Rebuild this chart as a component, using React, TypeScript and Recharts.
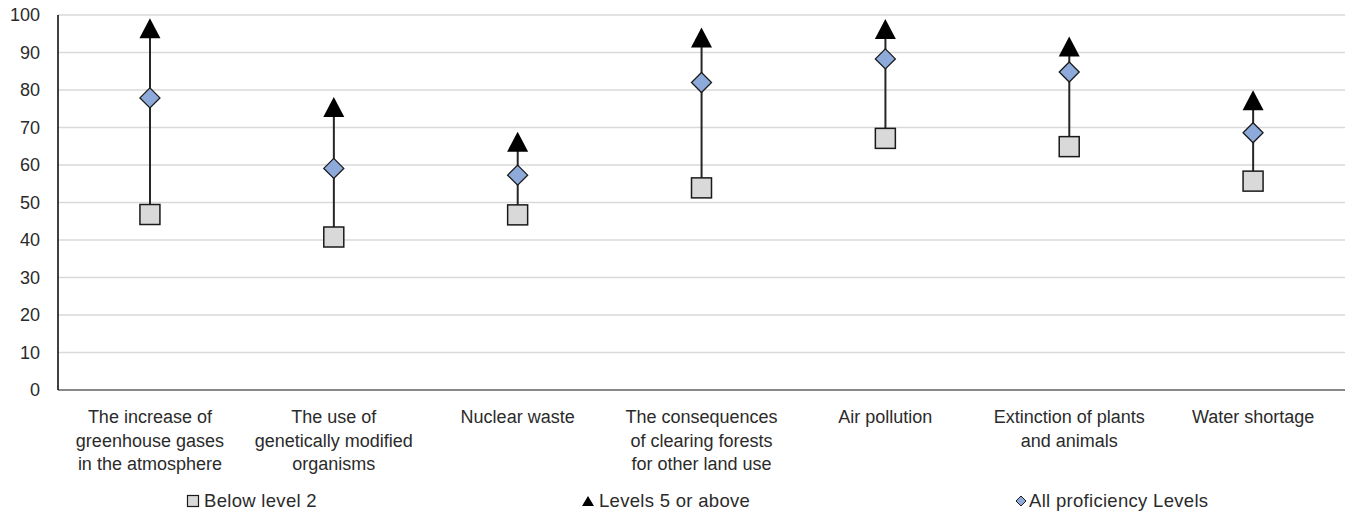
import React from "react";
import {
  ComposedChart,
  Bar,
  Scatter,
  XAxis,
  YAxis,
  CartesianGrid,
  Legend,
} from "recharts";

const categories = [
  "The increase of\ngreenhouse gases\nin the atmosphere",
  "The use of\ngenetically modified\norganisms",
  "Nuclear waste",
  "The consequences\nof clearing forests\nfor other land use",
  "Air pollution",
  "Extinction of plants\nand animals",
  "Water shortage",
];
const belowLevel2 = [46.8, 40.8, 46.7, 53.9, 67.1, 64.9, 55.7];
const levels5Above = [96.5, 75.5, 66.2, 94.0, 96.3, 91.6, 77.3];
const allLevels = [77.9, 59.1, 57.3, 82.0, 88.3, 84.8, 68.6];
const yTicks = [0, 10, 20, 30, 40, 50, 60, 70, 80, 90, 100];

const seriesNames = ["Below level 2", "Levels 5 or above", "All proficiency Levels"];

const data = categories.map((c, i) => ({
  cat: c,
  below: belowLevel2[i],
  top: levels5Above[i],
  all: allLevels[i],
  range: [belowLevel2[i], levels5Above[i]],
}));

const FONT = "'Liberation Sans', Arial, sans-serif";
const TEXT = "#2b2b2b";

const SquareShape = (p: any) => {
  const { cx, cy } = p;
  if (cx == null || cy == null) return null;
  return <rect x={cx - 10} y={cy - 10} width={20} height={20} fill="#d9d9d9" stroke="#1a1a1a" strokeWidth={1.5} />;
};
const TriangleShape = (p: any) => {
  const { cx, cy } = p;
  if (cx == null || cy == null) return null;
  return <path d={`M${cx},${cy - 10} L${cx + 10.5},${cy + 10} L${cx - 10.5},${cy + 10} Z`} fill="#000" />;
};
const DiamondShape = (p: any) => {
  const { cx, cy } = p;
  if (cx == null || cy == null) return null;
  return (
    <path
      d={`M${cx},${cy - 10} L${cx + 10},${cy} L${cx},${cy + 10} L${cx - 10},${cy} Z`}
      fill="#8eaadb"
      stroke="#1a1a1a"
      strokeWidth={1.3}
    />
  );
};

const XTick = (p: any) => {
  const { x, payload } = p;
  const lines = String(payload.value).split("\n");
  return (
    <text x={x} y={423} textAnchor="middle" fill={TEXT} fontSize={18} fontFamily={FONT}>
      {lines.map((l, i) => (
        <tspan key={i} x={x} dy={i === 0 ? 0 : 23.5}>
          {l}
        </tspan>
      ))}
    </text>
  );
};

const LegendContent = () => (
  <div style={{ position: "relative", width: 1346, height: 30, fontFamily: FONT, fontSize: 18.5, color: TEXT, letterSpacing: 0.3 }}>
    <svg style={{ position: "absolute", left: 0, top: 0 }} width={1346} height={30}>
      <rect x={187.5} y={13.5} width={11} height={11} fill="#d9d9d9" stroke="#1a1a1a" strokeWidth={1.2} />
      <path d="M588,14 L594,24 L582,24 Z" fill="#000" />
      <path d="M1021,14 L1026,19 L1021,24 L1016,19 Z" fill="#8eaadb" stroke="#1a1a1a" strokeWidth={1} />
    </svg>
    <span style={{ position: "absolute", left: 204, top: 7, lineHeight: "24px" }}>{seriesNames[0]}</span>
    <span style={{ position: "absolute", left: 599, top: 7, lineHeight: "24px" }}>{seriesNames[1]}</span>
    <span style={{ position: "absolute", left: 1029, top: 7, lineHeight: "24px" }}>{seriesNames[2]}</span>
  </div>
);

export default function App() {
  return (
    <div style={{ position: "absolute", left: 0, top: 0, width: 1346, height: 512, background: "#fff" }}>
      <ComposedChart
        width={1346}
        height={512}
        data={data}
        margin={{ top: 15, right: 1, bottom: 0, left: 0 }}
        barCategoryGap={0}
      >
        <CartesianGrid vertical={false} stroke="#d9d9d9" strokeWidth={1.3} />
        <XAxis
          dataKey="cat"
          interval={0}
          tickLine={false}
          axisLine={{ stroke: "#6b6b6b", strokeWidth: 1.5 }}
          height={92}
          tick={<XTick />}
        />
        <XAxis
          xAxisId="top"
          dataKey="cat"
          orientation="top"
          tick={false}
          tickLine={false}
          height={0}
          axisLine={{ stroke: "#1a1a1a", strokeWidth: 1.5 }}
        />
        <YAxis
          domain={[0, 100]}
          ticks={yTicks}
          interval={0}
          width={58}
          tickLine={false}
          tickMargin={12}
          axisLine={{ stroke: "#000", strokeWidth: 1.5 }}
          tick={{ fill: TEXT, fontSize: 18, fontFamily: FONT }}
        />
        <YAxis
          yAxisId="right"
          orientation="right"
          width={0}
          tick={false}
          tickLine={false}
          axisLine={{ stroke: "#333", strokeWidth: 1.2 }}
        />
        <Legend verticalAlign="bottom" content={<LegendContent />} wrapperStyle={{ left: 0, width: 1346, height: 30 }} />
        <Bar dataKey="range" barSize={2} fill="#262626" isAnimationActive={false} legendType="none" />
        <Scatter dataKey="below" name={seriesNames[0]} shape={<SquareShape />} isAnimationActive={false} />
        <Scatter dataKey="top" name={seriesNames[1]} shape={<TriangleShape />} isAnimationActive={false} />
        <Scatter dataKey="all" name={seriesNames[2]} shape={<DiamondShape />} isAnimationActive={false} />
      </ComposedChart>
    </div>
  );
}
